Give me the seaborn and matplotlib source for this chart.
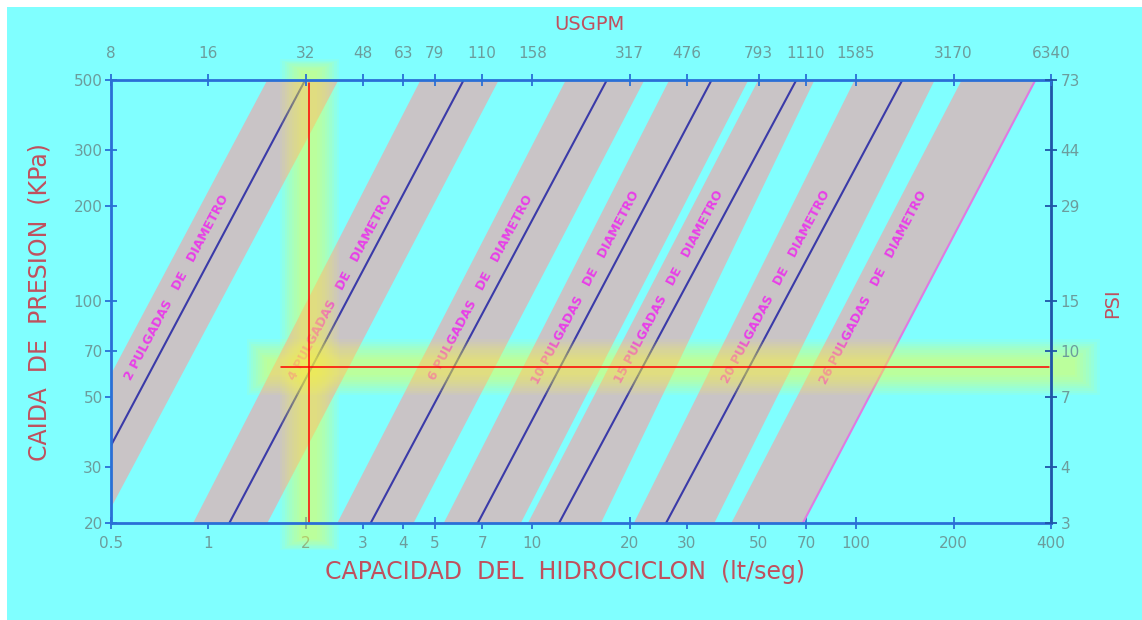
import numpy as np
import pandas as pd
import matplotlib
matplotlib.use("Agg")
import matplotlib.pyplot as plt
import matplotlib.transforms as mtransforms
from matplotlib.patches import Rectangle, Polygon
from matplotlib.ticker import FixedLocator, FixedFormatter, NullLocator
import seaborn as sns

# Hydrocyclone diameters (inches)
diametros = ["2", "4", "6", "10", "15", "20", "26"]

# Capacity (lt/seg) of each diameter line at 500 kPa and at 20 kPa
q_linea_500 = [1.99, 6.14, 17.0, 35.8, 65.4, 139.0, 358.0]
q_linea_20 = [0.373, 1.16, 3.17, 6.79, 12.1, 25.9, 68.5]

# Working range of each diameter: lower / upper capacity at 500 kPa and 20 kPa
q_min_500 = [1.52, 4.52, 12.7, 26.5, 49.9, 99.0, 212.0]
q_max_500 = [2.52, 7.88, 22.2, 46.5, 74.4, 175.0, 358.0]
q_min_20 = [0.285, 0.897, 2.50, 5.33, 9.70, 20.6, 41.2]
q_max_20 = [0.472, 1.52, 4.30, 9.22, 16.3, 36.5, 68.5]

# Axis ticks: capacity (lt/seg) with its USGPM equivalent, pressure (kPa) with PSI
cap_ticks = [0.5, 1, 2, 3, 4, 5, 7, 10, 20, 30, 50, 70, 100, 200, 400]
cap_labels = ["0.5", "1", "2", "3", "4", "5", "7", "10", "20", "30", "50",
              "70", "100", "200", "400"]
usgpm_labels = ["8", "16", "32", "48", "63", "79", "110", "158", "317", "476",
                "793", "1110", "1585", "3170", "6340"]
kpa_ticks = [20, 30, 50, 70, 100, 200, 300, 500]
kpa_labels = ["20", "30", "50", "70", "100", "200", "300", "500"]
psi_labels = ["3", "4", "7", "10", "15", "29", "44", "73"]

# Worked example: reading at 2 lt/seg and 62 kPa
q_ejemplo = 2.05
p_ejemplo = 62
q_ejemplo_desde = 1.67
q_ejemplo_hasta = 395
p_ejemplo_tope = 490

# Colours
CIAN = "#80ffff"
GRIS = "#c9c4c6"
AZUL_LINEA = "#3a3aa8"
ROSA_LINEA = "#e07ae0"
MAGENTA = "#e83ee8"
EJE = "#2a6fd6"
EJE_DER = "#1f55a8"
TXT_TICK = "#6c9c9c"
TXT_TITULO = "#c0505e"
AMARILLO = "#ffff40"

sns.set_theme(style="white")
plt.rcParams["font.family"] = ["DejaVu Sans"]

W, H = 1142, 620
fig = plt.figure(figsize=(W / 100, H / 100), dpi=100)
fig.patch.set_facecolor("white")
fig.patches.append(Rectangle((7 / W, 0), 1 - 7 / W, 1 - 7 / H,
                             transform=fig.transFigure, facecolor=CIAN,
                             edgecolor="none", zorder=-10))

ax = fig.add_axes([111 / W, 1 - 523 / H, 940 / W, 443 / H])
ax.set_facecolor(CIAN)
ax.set_xscale("log")
ax.set_yscale("log")
ax.set_xlim(0.5, 400)
ax.set_ylim(20, 500)

# Working-range bands
for lo5, hi5, lo2, hi2 in zip(q_min_500, q_max_500, q_min_20, q_max_20):
    ax.add_patch(Polygon([(lo5, 500), (hi5, 500), (hi2, 20), (lo2, 20)],
                         closed=True, facecolor=GRIS, edgecolor="none",
                         zorder=1))

# Diameter lines
lineas = pd.DataFrame({
    "diametro": np.repeat(diametros, 2),
    "q": np.ravel(np.column_stack([q_linea_20, q_linea_500])),
    "p": np.tile([20, 500], len(diametros)),
})
paleta = {d: AZUL_LINEA for d in diametros}
paleta[diametros[-1]] = ROSA_LINEA
sns.lineplot(data=lineas, x="q", y="p", hue="diametro", palette=paleta,
             estimator=None, sort=False, legend=False, linewidth=1.5,
             ax=ax, zorder=2)
ax.set_xlim(0.5, 400)
ax.set_ylim(20, 500)
ax.set_xlabel("")
ax.set_ylabel("")

# Diameter labels along each line
desplaz = [18, 14, 16, 17, 16, 16, 53]
p_rotulo = 111
for d, q2, q5, dx in zip(diametros, q_linea_20, q_linea_500, desplaz):
    a = ax.transData.transform((q2, 20))
    b = ax.transData.transform((q5, 500))
    ang = np.degrees(np.arctan2(b[1] - a[1], b[0] - a[0]))
    t = np.log(p_rotulo / 20) / np.log(500 / 20)
    q_r = q2 * (q5 / q2) ** t
    tr = mtransforms.offset_copy(ax.transData, fig=fig, x=-dx * 0.72, y=0,
                                 units="points")
    ax.text(q_r, p_rotulo, f"{d} PULGADAS   DE   DIAMETRO", transform=tr,
            rotation=ang, rotation_mode="anchor", ha="center", va="center",
            color=MAGENTA, fontsize=9, fontweight="bold", zorder=3)

# Highlight of the worked example (soft yellow glow)
def to_axes(q, p):
    return ax.transAxes.inverted().transform(ax.transData.transform((q, p)))

cx, cy = to_axes(q_ejemplo, p_ejemplo)
cx0, _ = to_axes(q_ejemplo_desde, p_ejemplo)
n_capas = 10
for i in range(n_capas):
    hw = (8 + 2.4 * i) / 940
    ax.add_patch(Rectangle((cx - hw, -0.035 - 0.003 * i), 2 * hw,
                           1.055 + 0.006 * i, transform=ax.transAxes,
                           facecolor=AMARILLO, edgecolor="none", alpha=0.065,
                           zorder=4, clip_on=False))
    hh = (8 + 2.2 * i) / 443
    x0 = cx0 - (14 + 2.2 * i) / 940
    ax.add_patch(Rectangle((x0, cy - hh), 1.025 + 0.003 * i - x0, 2 * hh,
                           transform=ax.transAxes, facecolor=AMARILLO,
                           edgecolor="none", alpha=0.065, zorder=4,
                           clip_on=False))

# Worked example reading lines
ax.plot([q_ejemplo, q_ejemplo], [20, p_ejemplo_tope], color="red", lw=1.1,
        zorder=5)
ax.plot([q_ejemplo_desde, q_ejemplo_hasta], [p_ejemplo, p_ejemplo],
        color="red", lw=1.1, zorder=5)

# Bottom / left axes
tick_kw = dict(direction="inout", length=8, width=1.3, color=EJE,
               labelcolor=TXT_TICK, labelsize=11)
ax.xaxis.set_major_locator(FixedLocator(cap_ticks))
ax.xaxis.set_major_formatter(FixedFormatter(cap_labels))
ax.xaxis.set_minor_locator(NullLocator())
ax.yaxis.set_major_locator(FixedLocator(kpa_ticks))
ax.yaxis.set_major_formatter(FixedFormatter(kpa_labels))
ax.yaxis.set_minor_locator(NullLocator())
ax.tick_params(axis="x", pad=5, **tick_kw)
ax.tick_params(axis="y", pad=2, **tick_kw)

# Top axis in USGPM
axt = ax.twiny()
axt.set_xscale("log")
axt.set_xlim(ax.get_xlim())
axt.xaxis.set_major_locator(FixedLocator(cap_ticks))
axt.xaxis.set_major_formatter(FixedFormatter(usgpm_labels))
axt.xaxis.set_minor_locator(NullLocator())
axt.tick_params(axis="x", pad=10, **tick_kw)

# Right axis in PSI
axr = ax.twinx()
axr.set_yscale("log")
axr.set_ylim(ax.get_ylim())
axr.yaxis.set_major_locator(FixedLocator(kpa_ticks))
axr.yaxis.set_major_formatter(FixedFormatter(psi_labels))
axr.yaxis.set_minor_locator(NullLocator())
axr.tick_params(axis="y", pad=3, **dict(tick_kw, color=EJE_DER))

for a_ in (axt, axr):
    for sp in a_.spines.values():
        sp.set_visible(False)
for nombre, sp in ax.spines.items():
    sp.set_visible(True)
    sp.set_linewidth(2)
    sp.set_color(EJE_DER if nombre == "right" else EJE)
    sp.set_zorder(10)

# Axis titles
fig.text(565 / W, 1 - 572 / H, "CAPACIDAD  DEL  HIDROCICLON  (lt/seg)",
         ha="center", va="center", color=TXT_TITULO, fontsize=17)
fig.text(589 / W, 1 - 24 / H, "USGPM", ha="center", va="center",
         color=TXT_TITULO, fontsize=14)
fig.text(40 / W, 1 - 302 / H, "CAIDA  DE  PRESION  (KPa)", ha="center",
         va="center", rotation=90, color=TXT_TITULO, fontsize=17)
fig.text(1113 / W, 1 - 303 / H, "PSI", ha="center", va="center",
         rotation=90, color=TXT_TITULO, fontsize=14)

fig.savefig("out.png", dpi=100, facecolor=fig.get_facecolor())
